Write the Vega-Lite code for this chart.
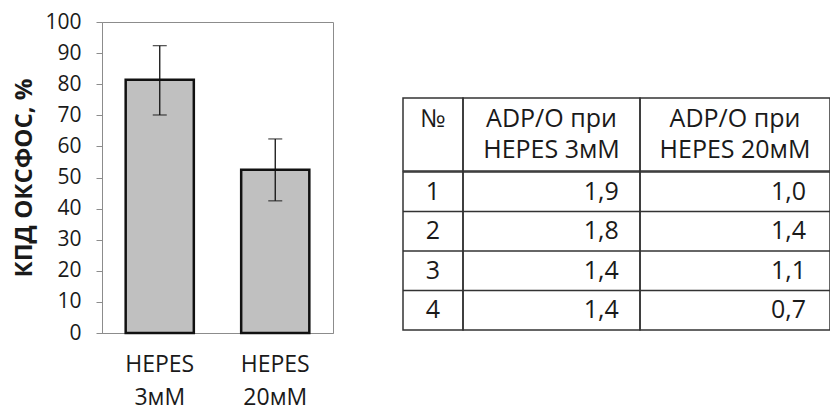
{
  "$schema": "https://vega.github.io/schema/vega-lite/v6.json",
  "padding": {"left": 12, "top": 10, "right": 0, "bottom": 0},
  "background": "white",
  "config": {
    "font": "Open Sans",
    "view": {"stroke": null},
    "concat": {"spacing": 0},
    "text": {"color": "#1a1a1a"}
  },
  "datasets": {
    "bars": [
      {"group": "HEPES 3мМ", "value": 81.4, "low": 70.1, "high": 92.4},
      {"group": "HEPES 20мМ", "value": 52.5, "low": 42.5, "high": 62.4}
    ],
    "table": [
      {"No": "1", "a": "1,9", "b": "1,0"},
      {"No": "2", "a": "1,8", "b": "1,4"},
      {"No": "3", "a": "1,4", "b": "1,1"},
      {"No": "4", "a": "1,4", "b": "0,7"}
    ],
    "header": [
      {"c1": ["№", ""], "c2": ["ADP/O при", "HEPES 3мМ"], "c3": ["ADP/O при", "HEPES 20мМ"]}
    ]
  },
  "spacing": 67,
  "hconcat": [
    {
      "width": 231,
      "height": 311,
      "data": {"name": "bars"},
      "view": {"stroke": "#8c8c8c", "strokeWidth": 1},
      "encoding": {
        "x": {
          "field": "group", "type": "nominal", "sort": null,
          "scale": {"paddingInner": 0.41, "paddingOuter": 0.205},
          "axis": {
            "title": null, "labelExpr": "split(datum.label, ' ')", "labelAngle": 0,
            "labelFontSize": 23, "labelColor": "#1a1a1a", "labelPadding": 20,
            "labelBaseline": "top", "labelLineHeight": 33,
            "ticks": false, "tickSize": 0, "domainColor": "#8c8c8c", "domainWidth": 1
          }
        }
      },
      "layer": [
        {
          "mark": {"type": "bar", "fill": "#c0c0c0", "stroke": "#111111", "strokeWidth": 2.5},
          "encoding": {
            "y": {
              "field": "value", "type": "quantitative",
              "scale": {"domain": [0, 100], "nice": false},
              "axis": {
                "title": "КПД ОКСФОС, %", "titleFontSize": 24, "titleFontWeight": "bold",
                "titleColor": "#1a1a1a", "titlePadding": 8,
                "values": [0, 10, 20, 30, 40, 50, 60, 70, 80, 90, 100],
                "labelOverlap": false,
                "labelFontSize": 21, "labelColor": "#1a1a1a", "labelPadding": 15,
                "tickSize": 6, "tickColor": "#8c8c8c", "domainColor": "#8c8c8c", "grid": false
              }
            }
          }
        },
        {
          "mark": {"type": "errorbar", "color": "#111111", "thickness": 1.3, "ticks": {"size": 14}},
          "encoding": {
            "y": {
              "field": "low", "type": "quantitative",
              "axis": {
                "title": "КПД ОКСФОС, %", "titleFontSize": 24, "titleFontWeight": "bold",
                "titleColor": "#1a1a1a", "titlePadding": 8,
                "values": [0, 10, 20, 30, 40, 50, 60, 70, 80, 90, 100],
                "labelOverlap": false,
                "labelFontSize": 21, "labelColor": "#1a1a1a", "labelPadding": 15,
                "tickSize": 6, "tickColor": "#8c8c8c", "domainColor": "#8c8c8c", "grid": false
              }
            },
            "y2": {"field": "high"}
          }
        }
      ]
    },
    {
      "spacing": -2,
      "vconcat": [
        {
          "width": 10, "height": 76,
          "data": {"values": []},
          "mark": {"type": "text"},
          "encoding": {}
        },
        {
          "spacing": 0,
          "bounds": "flush",
          "hconcat": [
            {
              "width": 60, "height": 73, "data": {"name": "header"},
              "view": {"stroke": "#333333", "strokeWidth": 1.5},
              "mark": {"type": "text", "fontSize": 25, "lineHeight": 31, "dy": -15.5},
              "encoding": {"text": {"field": "c1", "type": "nominal"}}
            },
            {
              "width": 177, "height": 73, "data": {"name": "header"},
              "view": {"stroke": "#333333", "strokeWidth": 1.5},
              "mark": {"type": "text", "fontSize": 25, "lineHeight": 31, "dy": -15.5},
              "encoding": {"text": {"field": "c2", "type": "nominal"}}
            },
            {
              "width": 190, "height": 73, "data": {"name": "header"},
              "view": {"stroke": "#333333", "strokeWidth": 1.5},
              "mark": {"type": "text", "fontSize": 25, "lineHeight": 31, "dy": -15.5},
              "encoding": {"text": {"field": "c3", "type": "nominal"}}
            }
          ]
        },
        {
          "spacing": 0,
          "bounds": "flush",
          "hconcat": [
            {
              "width": 60, "height": 158, "data": {"name": "table"},
              "view": {"stroke": "#333333", "strokeWidth": 1.5},
              "layer": [
                {
                  "transform": [{"filter": "datum.No != '1'"}],
                  "mark": {"type": "rule", "color": "#333333", "strokeWidth": 1.5},
                  "encoding": {"y": {"field": "No", "type": "nominal", "bandPosition": 0, "axis": null, "scale": {"type": "band", "paddingInner": 0, "paddingOuter": 0}}}
                },
                {
                  "mark": {"type": "text", "fontSize": 25},
                  "encoding": {
                    "y": {"field": "No", "type": "nominal", "axis": null, "scale": {"type": "band", "paddingInner": 0, "paddingOuter": 0}},
                    "text": {"field": "No", "type": "nominal"}
                  }
                }
              ]
            },
            {
              "width": 177, "height": 158, "data": {"name": "table"},
              "view": {"stroke": "#333333", "strokeWidth": 1.5},
              "layer": [
                {
                  "transform": [{"filter": "datum.No != '1'"}],
                  "mark": {"type": "rule", "color": "#333333", "strokeWidth": 1.5},
                  "encoding": {"y": {"field": "No", "type": "nominal", "bandPosition": 0, "axis": null, "scale": {"type": "band", "paddingInner": 0, "paddingOuter": 0}}}
                },
                {
                  "mark": {"type": "text", "fontSize": 25, "align": "right"},
                  "encoding": {
                    "x": {"datum": 0.88, "type": "quantitative", "scale": {"domain": [0, 1]}, "axis": null},
                    "y": {"field": "No", "type": "nominal", "axis": null, "scale": {"type": "band", "paddingInner": 0, "paddingOuter": 0}},
                    "text": {"field": "a", "type": "nominal"}
                  }
                }
              ]
            },
            {
              "width": 190, "height": 158, "data": {"name": "table"},
              "view": {"stroke": "#333333", "strokeWidth": 1.5},
              "layer": [
                {
                  "transform": [{"filter": "datum.No != '1'"}],
                  "mark": {"type": "rule", "color": "#333333", "strokeWidth": 1.5},
                  "encoding": {"y": {"field": "No", "type": "nominal", "bandPosition": 0, "axis": null, "scale": {"type": "band", "paddingInner": 0, "paddingOuter": 0}}}
                },
                {
                  "mark": {"type": "text", "fontSize": 25, "align": "right"},
                  "encoding": {
                    "x": {"datum": 0.874, "type": "quantitative", "scale": {"domain": [0, 1]}, "axis": null},
                    "y": {"field": "No", "type": "nominal", "axis": null, "scale": {"type": "band", "paddingInner": 0, "paddingOuter": 0}},
                    "text": {"field": "b", "type": "nominal"}
                  }
                }
              ]
            }
          ]
        }
      ]
    }
  ]
}
